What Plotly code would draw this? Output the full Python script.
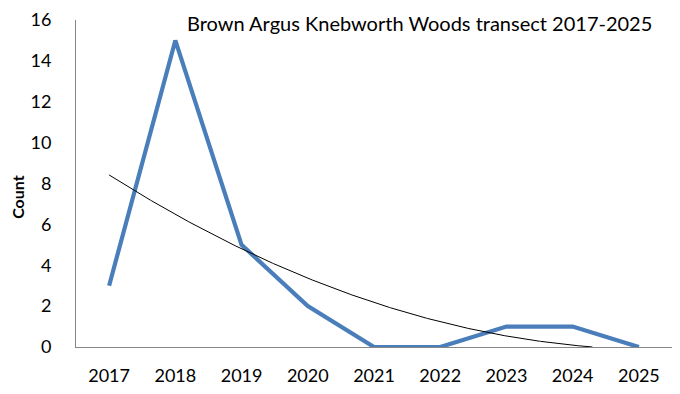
import numpy as np
import plotly.graph_objects as go

years = ["2017", "2018", "2019", "2020", "2021", "2022", "2023", "2024", "2025"]
counts = [3, 15, 5, 2, 0, 0, 1, 1, 0]
y_ticks = [0, 2, 4, 6, 8, 10, 12, 14, 16]
title_text = "Brown Argus Knebworth Woods transect 2017-2025"
y_title = "Count"

# Polynomial (order 2) trendline fitted to the series, as in the spreadsheet
idx = np.arange(1, len(counts) + 1)
coef = np.polyfit(idx, counts, 2)
xs = np.linspace(1, len(counts), 400)
ys = np.polyval(coef, xs)
mask = ys >= 0
xs_t = xs[mask] - 1
ys_t = ys[mask]

W, H = 680, 394
L, R, T, B = 76, 8, 19, 44
FONT = "Lato"

fig = go.Figure()
fig.add_trace(go.Scatter(
    x=list(range(len(years))), y=counts, mode="lines",
    line=dict(color="#4a7ebb", width=4.2), showlegend=False,
))
fig.add_trace(go.Scatter(
    x=xs_t, y=ys_t, mode="lines",
    line=dict(color="black", width=1), showlegend=False,
))

fig.update_layout(
    width=W, height=H,
    margin=dict(l=L, r=R, t=T, b=B),
    paper_bgcolor="white", plot_bgcolor="white",
    font=dict(family=FONT, size=18, color="black"),
    xaxis=dict(
        range=[-0.5, len(years) - 0.5],
        tickmode="array", tickvals=list(range(len(years))), ticktext=years,
        showgrid=False, zeroline=False, showline=True, linecolor="#868686", linewidth=1,
        ticks="", ticklabelstandoff=12,
    ),
    yaxis=dict(
        range=[0, 16], tickvals=y_ticks,
        showgrid=False, zeroline=False, showline=True, linecolor="#868686", linewidth=1,
        ticks="", ticklabelstandoff=20,
    ),
    annotations=[
        dict(text=title_text, x=654, y=H - 22, xref="paper", yref="paper",
             showarrow=False, xanchor="right", yanchor="middle",
             font=dict(size=20, family=FONT)),
        dict(text="<b>" + y_title + "</b>", x=18, y=H - 198, xref="paper", yref="paper",
             showarrow=False, xanchor="center", yanchor="middle", textangle=-90,
             font=dict(size=16, family=FONT)),
    ],
)
# convert pixel annotation positions to paper coords
for a in fig.layout.annotations:
    a.x = (a.x - L) / (W - L - R)
    a.y = (a.y - B) / (H - T - B)

fig.write_html("out.html")
